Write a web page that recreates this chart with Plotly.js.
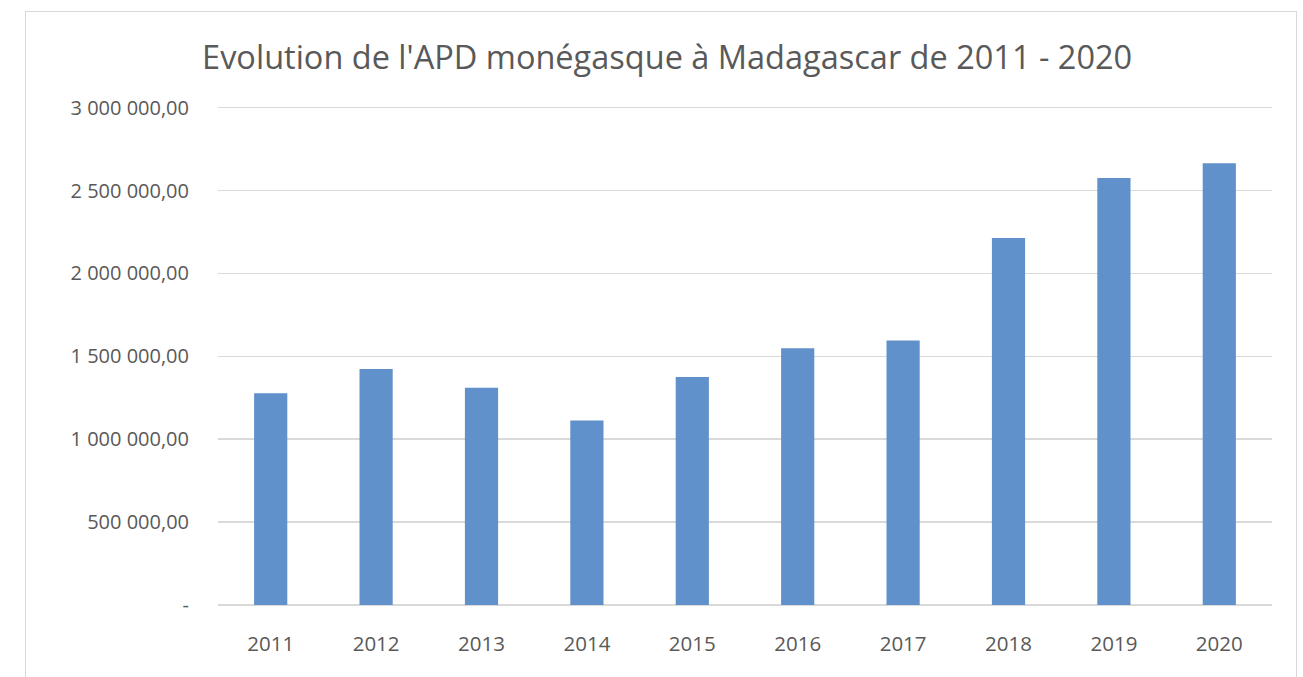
<!DOCTYPE html>
<html>
<head>
<meta charset="utf-8">
<script src="https://cdn.plot.ly/plotly-3.0.1.min.js"></script>
<style>
  html, body { margin: 0; padding: 0; background: #ffffff; }
  #chart { width: 1303px; height: 677px; }
  #frame { position: absolute; left: 25px; top: 11px; width: 1272px; height: 700px;
           border: 1px solid #d9d9d9; border-bottom: none; pointer-events: none; box-sizing: border-box; }
</style>
</head>
<body>
<div id="chart"></div>
<div id="frame"></div>
<script>
const titleText = "Evolution de l'APD monégasque à Madagascar de 2011 - 2020";
const years = ["2011", "2012", "2013", "2014", "2015", "2016", "2017", "2018", "2019", "2020"];
const amounts = [1278000, 1423000, 1311000, 1113000, 1376000, 1549000, 1595000, 2214000, 2575000, 2665000];
const yTickVals = [0, 500000, 1000000, 1500000, 2000000, 2500000, 3000000];
const yTickText = ["-", "500 000,00", "1 000 000,00", "1 500 000,00", "2 000 000,00", "2 500 000,00", "3 000 000,00"];

const textColor = "#595959";
const fontFamily = "'Open Sans', 'Noto Sans', sans-serif";

Plotly.newPlot("chart", [{
  type: "bar",
  x: years,
  y: amounts,
  marker: { color: "#6191cb" },
  hoverinfo: "x+y"
}], {
  width: 1303,
  height: 677,
  margin: { l: 218, r: 31, t: 106, b: 72 },
  paper_bgcolor: "#ffffff",
  plot_bgcolor: "#ffffff",
  bargap: 0.685,
  showlegend: false,
  font: { family: fontFamily, color: textColor },
  title: {
    text: titleText,
    font: { family: fontFamily, size: 32.5, color: textColor },
    x: 0.512, xanchor: "center", xref: "container",
    y: 1 - 58 / 677, yanchor: "middle", yref: "container"
  },
  xaxis: {
    type: "category",
    tickfont: { family: fontFamily, size: 20.5, color: textColor },
    showgrid: false,
    showline: false,
    zeroline: false,
    ticks: "",
    ticklabelstandoff: 24
  },
  yaxis: {
    range: [0, 3010000],
    tickvals: yTickVals,
    ticktext: yTickText,
    tickfont: { family: fontFamily, size: 20, color: textColor },
    showgrid: true,
    gridcolor: "#d9d9d9",
    gridwidth: 1.5,
    zeroline: true,
    zerolinecolor: "#d9d9d9",
    zerolinewidth: 1.5,
    showline: false,
    ticks: "",
    ticklabelstandoff: 28
  }
}, { displayModeBar: false, staticPlot: true });
</script>
</body>
</html>
